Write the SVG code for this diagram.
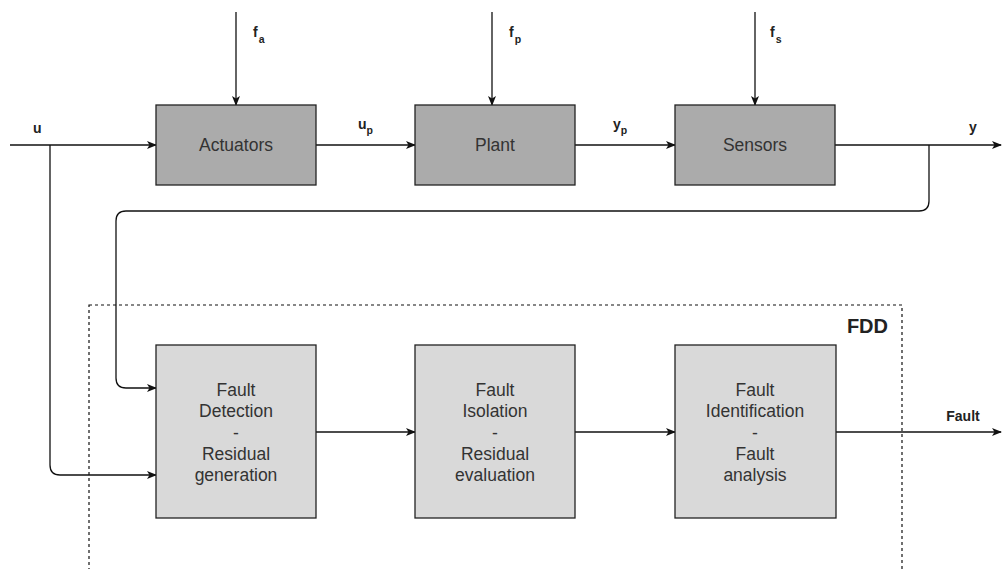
<svg xmlns="http://www.w3.org/2000/svg" width="1002" height="569" viewBox="0 0 1002 569">
  <style>
    .proc { fill: #ababab; stroke: #222; stroke-width: 1.3; }
    .fdd { fill: #d9d9d9; stroke: #222; stroke-width: 1.3; }
    .box-text { font-family: "Liberation Sans", Arial, sans-serif; font-size: 17.5px; fill: #333; text-anchor: middle; }
    .lbl { font-family: "Liberation Sans", Arial, sans-serif; font-weight: bold; font-size: 14px; fill: #222; }
    .sub { font-size: 10.5px; }
    .wire { fill: none; stroke: #111; stroke-width: 1.3; }
    .frame { fill: none; stroke: #111; stroke-width: 1.2; stroke-dasharray: 3 3; }
  </style>
  <defs>
    <marker id="arrow" viewBox="0 0 10 10" refX="9" refY="5" markerWidth="10" markerHeight="10" markerUnits="userSpaceOnUse" orient="auto">
      <path d="M0,1 L10,5 L0,9 L2.5,5 Z" fill="#111"/>
    </marker>
  </defs>

  <rect width="1002" height="569" fill="#fff"/>

  <!-- FDD boundary -->
  <g id="fdd-frame">
    <rect class="frame" x="89" y="305" width="813" height="280"/>
    <text class="lbl" x="888" y="333" text-anchor="end" style="font-size:20px">FDD</text>
  </g>

  <!-- connectors -->
  <g id="connectors">
    <path class="wire" d="M10,145 H156" marker-end="url(#arrow)"/>
    <path class="wire" d="M316,145 H415" marker-end="url(#arrow)"/>
    <path class="wire" d="M575,145 H675" marker-end="url(#arrow)"/>
    <path class="wire" d="M835,145 H1001" marker-end="url(#arrow)"/>
    <path class="wire" d="M236,12 V105" marker-end="url(#arrow)"/>
    <path class="wire" d="M492,12 V105" marker-end="url(#arrow)"/>
    <path class="wire" d="M755,12 V105" marker-end="url(#arrow)"/>
    <path class="wire" d="M50,145 V465 Q50,475 60,475 H156" marker-end="url(#arrow)"/>
    <path class="wire" d="M929,145 V201 Q929,211 919,211 H126 Q116,211 116,221 V378 Q116,388 126,388 H156" marker-end="url(#arrow)"/>
    <path class="wire" d="M316,432 H415" marker-end="url(#arrow)"/>
    <path class="wire" d="M575,432 H675" marker-end="url(#arrow)"/>
    <path class="wire" d="M836,432 H1001" marker-end="url(#arrow)"/>
  </g>

  <!-- signal labels -->
  <g id="signal-labels">
    <text class="lbl" x="33" y="133">u</text>
    <text class="lbl" x="358" y="129">u<tspan class="sub" dy="5">p</tspan></text>
    <text class="lbl" x="613" y="129">y<tspan class="sub" dy="5">p</tspan></text>
    <text class="lbl" x="969" y="132">y</text>
    <text class="lbl" x="253" y="37">f<tspan class="sub" dx="1" dy="6">a</tspan></text>
    <text class="lbl" x="509" y="37">f<tspan class="sub" dx="1" dy="6">p</tspan></text>
    <text class="lbl" x="770" y="37">f<tspan class="sub" dx="1" dy="6">s</tspan></text>
    <text class="lbl" x="963" y="421" text-anchor="middle">Fault</text>
  </g>

  <g id="actuators">
    <rect class="proc" x="156" y="105" width="160" height="80"/>
    <text class="box-text" x="236" y="151">Actuators</text>
  </g>
  <g id="plant">
    <rect class="proc" x="415" y="105" width="160" height="80"/>
    <text class="box-text" x="495" y="151">Plant</text>
  </g>
  <g id="sensors">
    <rect class="proc" x="675" y="105" width="160" height="80"/>
    <text class="box-text" x="755" y="151">Sensors</text>
  </g>

  <g id="fault-detection">
    <rect class="fdd" x="156" y="345" width="160" height="173"/>
    <text class="box-text" x="236" y="396">Fault</text>
    <text class="box-text" x="236" y="417">Detection</text>
    <text class="box-text" x="236" y="439">-</text>
    <text class="box-text" x="236" y="460">Residual</text>
    <text class="box-text" x="236" y="481">generation</text>
  </g>
  <g id="fault-isolation">
    <rect class="fdd" x="415" y="345" width="160" height="173"/>
    <text class="box-text" x="495" y="396">Fault</text>
    <text class="box-text" x="495" y="417">Isolation</text>
    <text class="box-text" x="495" y="439">-</text>
    <text class="box-text" x="495" y="460">Residual</text>
    <text class="box-text" x="495" y="481">evaluation</text>
  </g>
  <g id="fault-identification">
    <rect class="fdd" x="675" y="345" width="161" height="173"/>
    <text class="box-text" x="755" y="396">Fault</text>
    <text class="box-text" x="755" y="417">Identification</text>
    <text class="box-text" x="755" y="439">-</text>
    <text class="box-text" x="755" y="460">Fault</text>
    <text class="box-text" x="755" y="481">analysis</text>
  </g>
</svg>
